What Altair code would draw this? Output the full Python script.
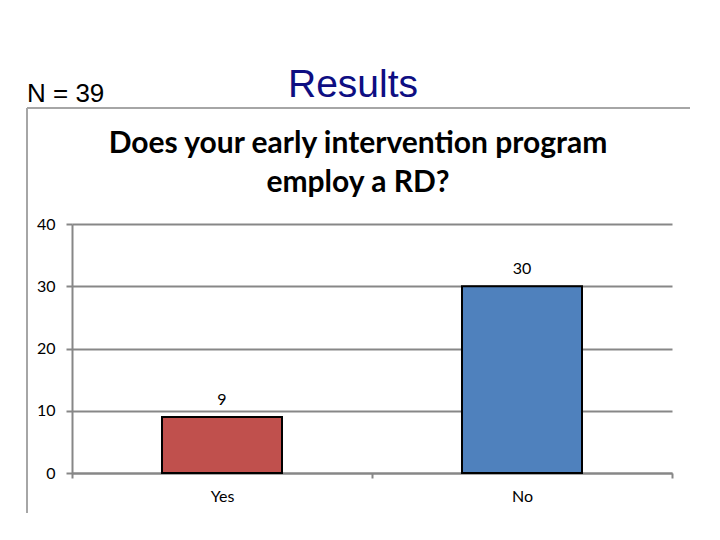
import altair as alt
import pandas as pd

categories = ["Yes", "No"]
counts = [9, 30]
bar_colors = ["#C0504D", "#4F81BD"]
y_ticks = [0, 10, 20, 30, 40]
title_lines = ["Does your early intervention program", "employ a RD?"]
n_label = "N = 39"
slide_title = "Results"

df = pd.DataFrame({"category": categories, "count": counts, "color": bar_colors})

GRAY = "#878787"
FRAME = "#A6A6A6"

x_enc = alt.X(
    "category:N",
    sort=categories,
    scale=alt.Scale(paddingInner=0, paddingOuter=0),
    axis=alt.Axis(
        title=None, labelAngle=0, tickBand="extent", grid=False,
        domainColor=GRAY, domainWidth=2, tickColor=GRAY, tickWidth=2, tickSize=5,
        labelPadding=10, labelFont="Lato", labelFontSize=16, labelColor="black",
    ),
)
y_enc = alt.Y(
    "count:Q",
    scale=alt.Scale(domain=[0, 40]),
    axis=alt.Axis(
        title=None, values=y_ticks, grid=True, gridColor=GRAY, gridWidth=2,
        domainColor=GRAY, domainWidth=2, tickColor=GRAY, tickWidth=2, tickSize=6,
        labelPadding=11, labelFont="Lato", labelFontSize=16, labelColor="black",
    ),
)

bars = alt.Chart(df).mark_bar(
    stroke="black", strokeWidth=2, width=alt.RelativeBandSize(0.4)
).encode(x=x_enc, y=y_enc, color=alt.Color("color:N", scale=None))
values = alt.Chart(df).mark_text(dy=-17, font="Lato", fontSize=16, color="black").encode(
    x=alt.X("category:N", sort=categories), y="count:Q", text="count:Q"
)

frame_top = alt.Chart(pd.DataFrame({"k": [0]})).mark_rule(color=FRAME, strokeWidth=2).encode(
    x=alt.value(-45), x2=alt.value(618), y=alt.value(-116)
)
frame_left = alt.Chart(pd.DataFrame({"k": [0]})).mark_rule(color=FRAME, strokeWidth=2).encode(
    x=alt.value(-45), y=alt.value(-116), y2=alt.value(293)
)

n_text = alt.Chart(pd.DataFrame({"t": [n_label]})).mark_text(
    font="Liberation Sans", fontSize=26, color="black", align="left", baseline="alphabetic"
).encode(x=alt.value(-45), y=alt.value(-122), text="t:N")

res_text = alt.Chart(pd.DataFrame({"t": [slide_title]})).mark_text(
    font="Liberation Sans", fontSize=39, color="#0E0E82", align="center", baseline="alphabetic"
).encode(x=alt.value(281), y=alt.value(-127), text="t:N")

title_text = alt.Chart(pd.DataFrame({"t": ["\n".join(title_lines)]})).mark_text(
    font="Lato", fontSize=30, fontWeight="bold", color="black", align="center",
    baseline="alphabetic", lineBreak="\n", lineHeight=39
).encode(x=alt.value(286), y=alt.value(-71), text="t:N")

chart = alt.layer(frame_top, frame_left, bars, values, n_text, res_text, title_text).properties(
    width=600, height=249,
    autosize=alt.AutoSizeParams(type="none"),
    padding={"left": 64, "top": 216, "right": 40, "bottom": 40},
).configure_view(stroke=None)

chart.save("out.html", embed_options={"renderer": "svg", "actions": False})
